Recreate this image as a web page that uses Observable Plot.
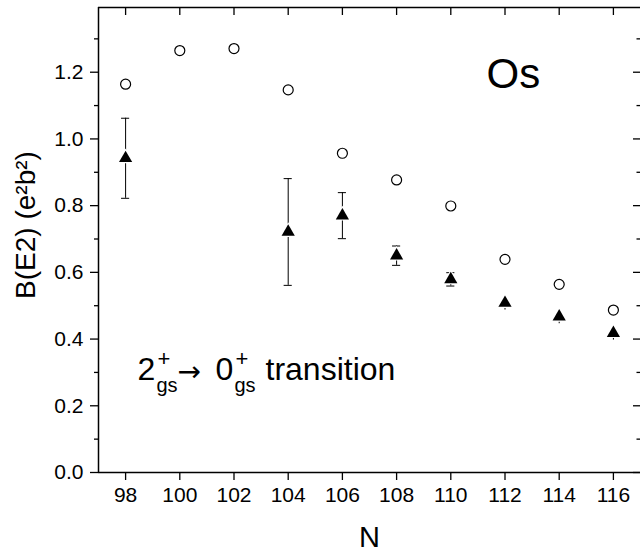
<!DOCTYPE html>
<html><head><meta charset="utf-8">
<script src="https://cdn.jsdelivr.net/npm/d3@7"></script>
<script src="https://cdn.jsdelivr.net/npm/@observablehq/plot@0.6"></script>
<style>html,body{margin:0;padding:0;background:#fff} svg{display:block}</style>
</head><body><div id="chart"></div>
<script>
// Data
const thN = [98, 100, 102, 104, 106, 108, 110, 112, 114, 116];
const thB = [1.164, 1.265, 1.271, 1.147, 0.957, 0.877, 0.799, 0.639, 0.564, 0.487];
const exN = [98, 104, 106, 108, 110, 112, 114, 116];
const exB = [0.942, 0.721, 0.770, 0.650, 0.579, 0.508, 0.467, 0.418];
const exErr = [0.12, 0.16, 0.069, 0.029, 0.02, 0.021, 0.021, 0.021];
const exCap = [true, true, true, true, true, false, false, false];
const xTicks = [98, 100, 102, 104, 106, 108, 110, 112, 114, 116];
const yTicks = [0, 0.2, 0.4, 0.6, 0.8, 1.0, 1.2];
const yMinor = [0.1, 0.3, 0.5, 0.7, 0.9, 1.1, 1.3];
const xDomain = [97, 117];
const yDomain = [0, 1.394];

const theory = thN.map((n, i) => ({N: n, B: thB[i]}));
const expt = exN.map((n, i) => ({N: n, B: exB[i], lo: exB[i] - exErr[i], hi: exB[i] + exErr[i], cap: exCap[i]}));
const capped = expt.filter(d => d.cap);

const W = 640, H = 554, ML = 98, MR = 0, MT = 7, MB = 82;
const FW = W - ML - MR, FH = H - MT - MB;
const font = "Liberation Sans, Arial, Helvetica, sans-serif";

function ann(t, x, y, size, opts = {}) {
  return Plot.text([t], {frameAnchor: "top-left", dx: x - ML, dy: y - MT, fontSize: size,
    textAnchor: "start", lineAnchor: "bottom", fill: "black", ...opts});
}

const plot = Plot.plot({
  width: W, height: H,
  marginLeft: ML, marginRight: MR, marginTop: MT, marginBottom: MB,
  style: {fontFamily: font, background: "#fff", color: "black", overflow: "visible"},
  x: {domain: xDomain, axis: null},
  y: {domain: yDomain, axis: null},
  marks: [
    // axes
    Plot.axisX({ticks: xTicks, tickSize: 8, tickPadding: 7, fontSize: 21, label: null, strokeWidth: 1.3}),
    Plot.axisY({ticks: yTicks, tickSize: 8, tickPadding: 7, fontSize: 21, tickFormat: ".1f", label: null, strokeWidth: 1.3}),
    Plot.axisY({ticks: yMinor, tickSize: 4, tickFormat: () => "", label: null, strokeWidth: 1.3}),
    // inward ticks on top and right
    Plot.ruleX(xTicks, {insetBottom: FH - 8, strokeWidth: 1.3}),
    Plot.ruleY(yTicks, {insetLeft: FW - 7, strokeWidth: 1.3}),
    Plot.ruleY(yMinor, {insetLeft: FW - 3.5, strokeWidth: 1.3}),
    // frame
    Plot.ruleY([yDomain[0]], {strokeWidth: 1.5}),
    Plot.ruleY([yDomain[1]], {strokeWidth: 1.5}),
    Plot.ruleX([xDomain[0]], {strokeWidth: 1.5}),
    // error bars
    Plot.ruleX(expt, {x: "N", y1: "lo", y2: "hi", strokeWidth: 1}),
    Plot.ruleY(capped, {y: "lo", x1: d => d.N - 0.15, x2: d => d.N + 0.15, strokeWidth: 1}),
    Plot.ruleY(capped, {y: "hi", x1: d => d.N - 0.15, x2: d => d.N + 0.15, strokeWidth: 1}),
    // points
    Plot.dot(theory, {x: "N", y: "B", r: 5, stroke: "black", fill: "white", strokeWidth: 1.2}),
    Plot.dot(expt, {x: "N", y: "B", symbol: "triangle", r: 4.9, fill: "black", stroke: "white", strokeWidth: 2.2, paintOrder: "stroke"}),
    // labels
    Plot.text(["B(E2) (e²b²)"], {frameAnchor: "top-left", dx: 34 - ML, dy: 224.5 - MT, rotate: -90,
      textAnchor: "middle", lineAnchor: "bottom", fontSize: 28, fill: "black"}),
    Plot.text(["N"], {frameAnchor: "top-left", dx: 369 - ML, dy: 546 - MT, textAnchor: "middle",
      lineAnchor: "bottom", fontSize: 29, fill: "black"}),
    ann("Os", 486, 87, 42),
    ann("2", 137, 379.5, 32),
    ann("+", 157, 365, 22),
    ann("gs", 156, 391.5, 20),
    ann("→", 177, 380, 28, {fontFamily: "DejaVu Sans"}),
    ann("0", 215, 379.5, 32),
    ann("+", 235, 365, 22),
    ann("gs", 234, 391.5, 20),
    ann("transition", 265, 379.5, 32)
  ]
});
document.getElementById("chart").appendChild(plot);
</script>
</body></html>
